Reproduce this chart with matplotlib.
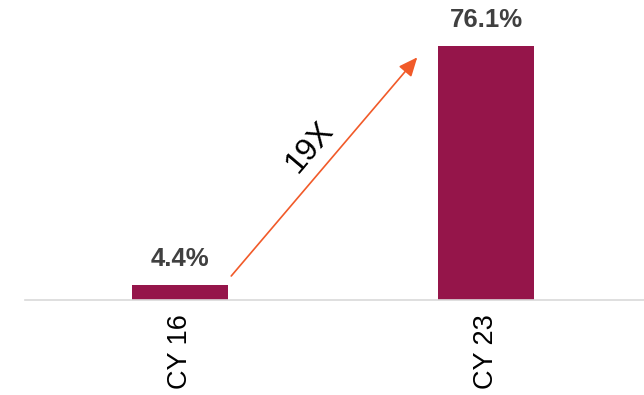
import matplotlib
matplotlib.use("Agg")
import matplotlib.pyplot as plt

categories = ["CY 16", "CY 23"]
values = [4.4, 76.1]
growth_label = "19X"

bar_color = "#95154A"
arrow_color = "#F15A29"
label_color = "#404040"

plt.rcParams["font.family"] = ["Liberation Sans", "DejaVu Sans"]

fig = plt.figure(figsize=(6.44, 3.95), dpi=100)
ax = fig.add_axes([25 / 644, 95 / 395, 619 / 644, 300 / 395])

x = list(range(len(categories)))
ax.bar(x, values, width=0.314, color=bar_color, zorder=2)

for xi, v in zip(x, values):
    ax.annotate(f"{v:.1f}%", (xi, v), xytext=(0, 10), textcoords="offset points",
                ha="center", va="bottom", fontsize=18.5, fontweight="bold",
                color=label_color)

ax.annotate("", xy=(0.775, 72.8), xytext=(0.167, 7.2),
            arrowprops=dict(arrowstyle="-|>,head_length=1.15,head_width=0.5",
                            color=arrow_color, lw=1.2, shrinkA=0, shrinkB=0))
ax.text(0.425, 46.0, growth_label, rotation=49.7, rotation_mode="anchor",
        ha="center", va="center", fontsize=23, color="black")

ax.set_xlim(-0.507, 1.516)
ax.set_ylim(0, 90)
ax.set_xticks(x)
ax.set_xticklabels(categories, rotation=90, fontsize=19.5, color="black")
ax.tick_params(axis="x", length=0, pad=10)
ax.set_yticks([])
for side in ["top", "left", "right"]:
    ax.spines[side].set_visible(False)
ax.spines["bottom"].set_color("#D9D9D9")
ax.spines["bottom"].set_linewidth(1.2)
ax.set_facecolor("white")

fig.savefig("out.png", dpi=100, facecolor="white")
